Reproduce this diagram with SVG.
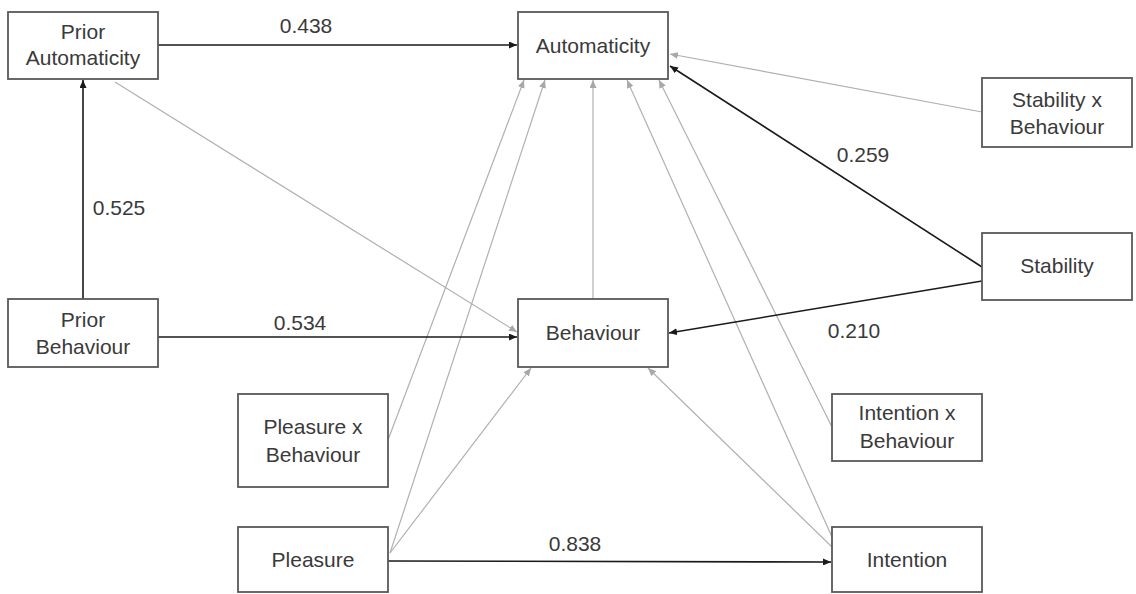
<svg xmlns="http://www.w3.org/2000/svg" width="1136" height="594" viewBox="0 0 1136 594">
<style>
.box{fill:#fff;stroke:#595959;stroke-width:1.8}
.t{font-family:"Liberation Sans",Arial,sans-serif;font-size:21px;fill:#3a3a3a;text-anchor:middle}
.lbl{font-family:"Liberation Sans",Arial,sans-serif;font-size:21px;fill:#3a3a3a;text-anchor:middle}
.k{fill:none;stroke:#1a1a1a;stroke-width:1.6}
.g{fill:none;stroke:#b0b0b0;stroke-width:1.2}
</style>
<defs>
<marker id="ak" viewBox="0 0 8 7" refX="8" refY="3.5" markerWidth="8" markerHeight="7" orient="auto" markerUnits="userSpaceOnUse"><path d="M0,0 L8,3.5 L0,7 z" fill="#1a1a1a"/></marker>
<marker id="ag" viewBox="0 0 8 7" refX="8" refY="3.5" markerWidth="8" markerHeight="7" orient="auto" markerUnits="userSpaceOnUse"><path d="M0,0 L8,3.5 L0,7 z" fill="#a8a8a8"/></marker>
</defs>
<rect width="1136" height="594" fill="#fff"/>
<g id="connectors">
<path class="g" d="M115,82 L517,332" marker-end="url(#ag)"/>
<path class="g" d="M982,112 L670,54" marker-end="url(#ag)"/>
<path class="g" d="M593,299 L593,80" marker-end="url(#ag)"/>
<path class="g" d="M388,440 L524,80" marker-end="url(#ag)"/>
<path class="g" d="M390,553 L545,80" marker-end="url(#ag)"/>
<path class="g" d="M390,553 L531,368" marker-end="url(#ag)"/>
<path class="g" d="M832,547 L648,368" marker-end="url(#ag)"/>
<path class="g" d="M832,537 L627,80" marker-end="url(#ag)"/>
<path class="g" d="M832,427 L659,80" marker-end="url(#ag)"/>
<path class="k" d="M158,45 L517,45" marker-end="url(#ak)"/>
<path class="k" d="M83,299 L83,80" marker-end="url(#ak)"/>
<path class="k" d="M158,337 L517,337" marker-end="url(#ak)"/>
<path class="k" d="M982,267 L670,66" marker-end="url(#ak)"/>
<path class="k" d="M982,281 L669,333" marker-end="url(#ak)"/>
<path class="k" d="M388,561 L831,562" marker-end="url(#ak)"/>
<text class="lbl" x="306" y="33">0.438</text>
<text class="lbl" x="119" y="215">0.525</text>
<text class="lbl" x="300" y="330">0.534</text>
<text class="lbl" x="863" y="162">0.259</text>
<text class="lbl" x="854" y="338">0.210</text>
<text class="lbl" x="575" y="551">0.838</text>
</g>
<g id="prior-automaticity"><rect class="box" x="8" y="12" width="150" height="67"/><text class="t" x="83" y="39">Prior</text><text class="t" x="83" y="65">Automaticity</text></g>
<g id="automaticity"><rect class="box" x="518" y="12" width="150" height="67"/><text class="t" x="593" y="53">Automaticity</text></g>
<g id="stability-x-behaviour"><rect class="box" x="982" y="78" width="150" height="69"/><text class="t" x="1057" y="107">Stability x</text><text class="t" x="1057" y="134">Behaviour</text></g>
<g id="stability"><rect class="box" x="982" y="233" width="150" height="67"/><text class="t" x="1057" y="273">Stability</text></g>
<g id="prior-behaviour"><rect class="box" x="8" y="299" width="150" height="68"/><text class="t" x="83" y="327">Prior</text><text class="t" x="83" y="354">Behaviour</text></g>
<g id="behaviour"><rect class="box" x="518" y="299" width="150" height="68"/><text class="t" x="593" y="340">Behaviour</text></g>
<g id="pleasure-x-behaviour"><rect class="box" x="238" y="394" width="150" height="93"/><text class="t" x="313" y="434">Pleasure x</text><text class="t" x="313" y="462">Behaviour</text></g>
<g id="pleasure"><rect class="box" x="238" y="527" width="150" height="65"/><text class="t" x="313" y="567">Pleasure</text></g>
<g id="intention-x-behaviour"><rect class="box" x="832" y="394" width="150" height="67"/><text class="t" x="907" y="420">Intention x</text><text class="t" x="907" y="448">Behaviour</text></g>
<g id="intention"><rect class="box" x="832" y="527" width="150" height="65"/><text class="t" x="907" y="567">Intention</text></g>
</svg>
